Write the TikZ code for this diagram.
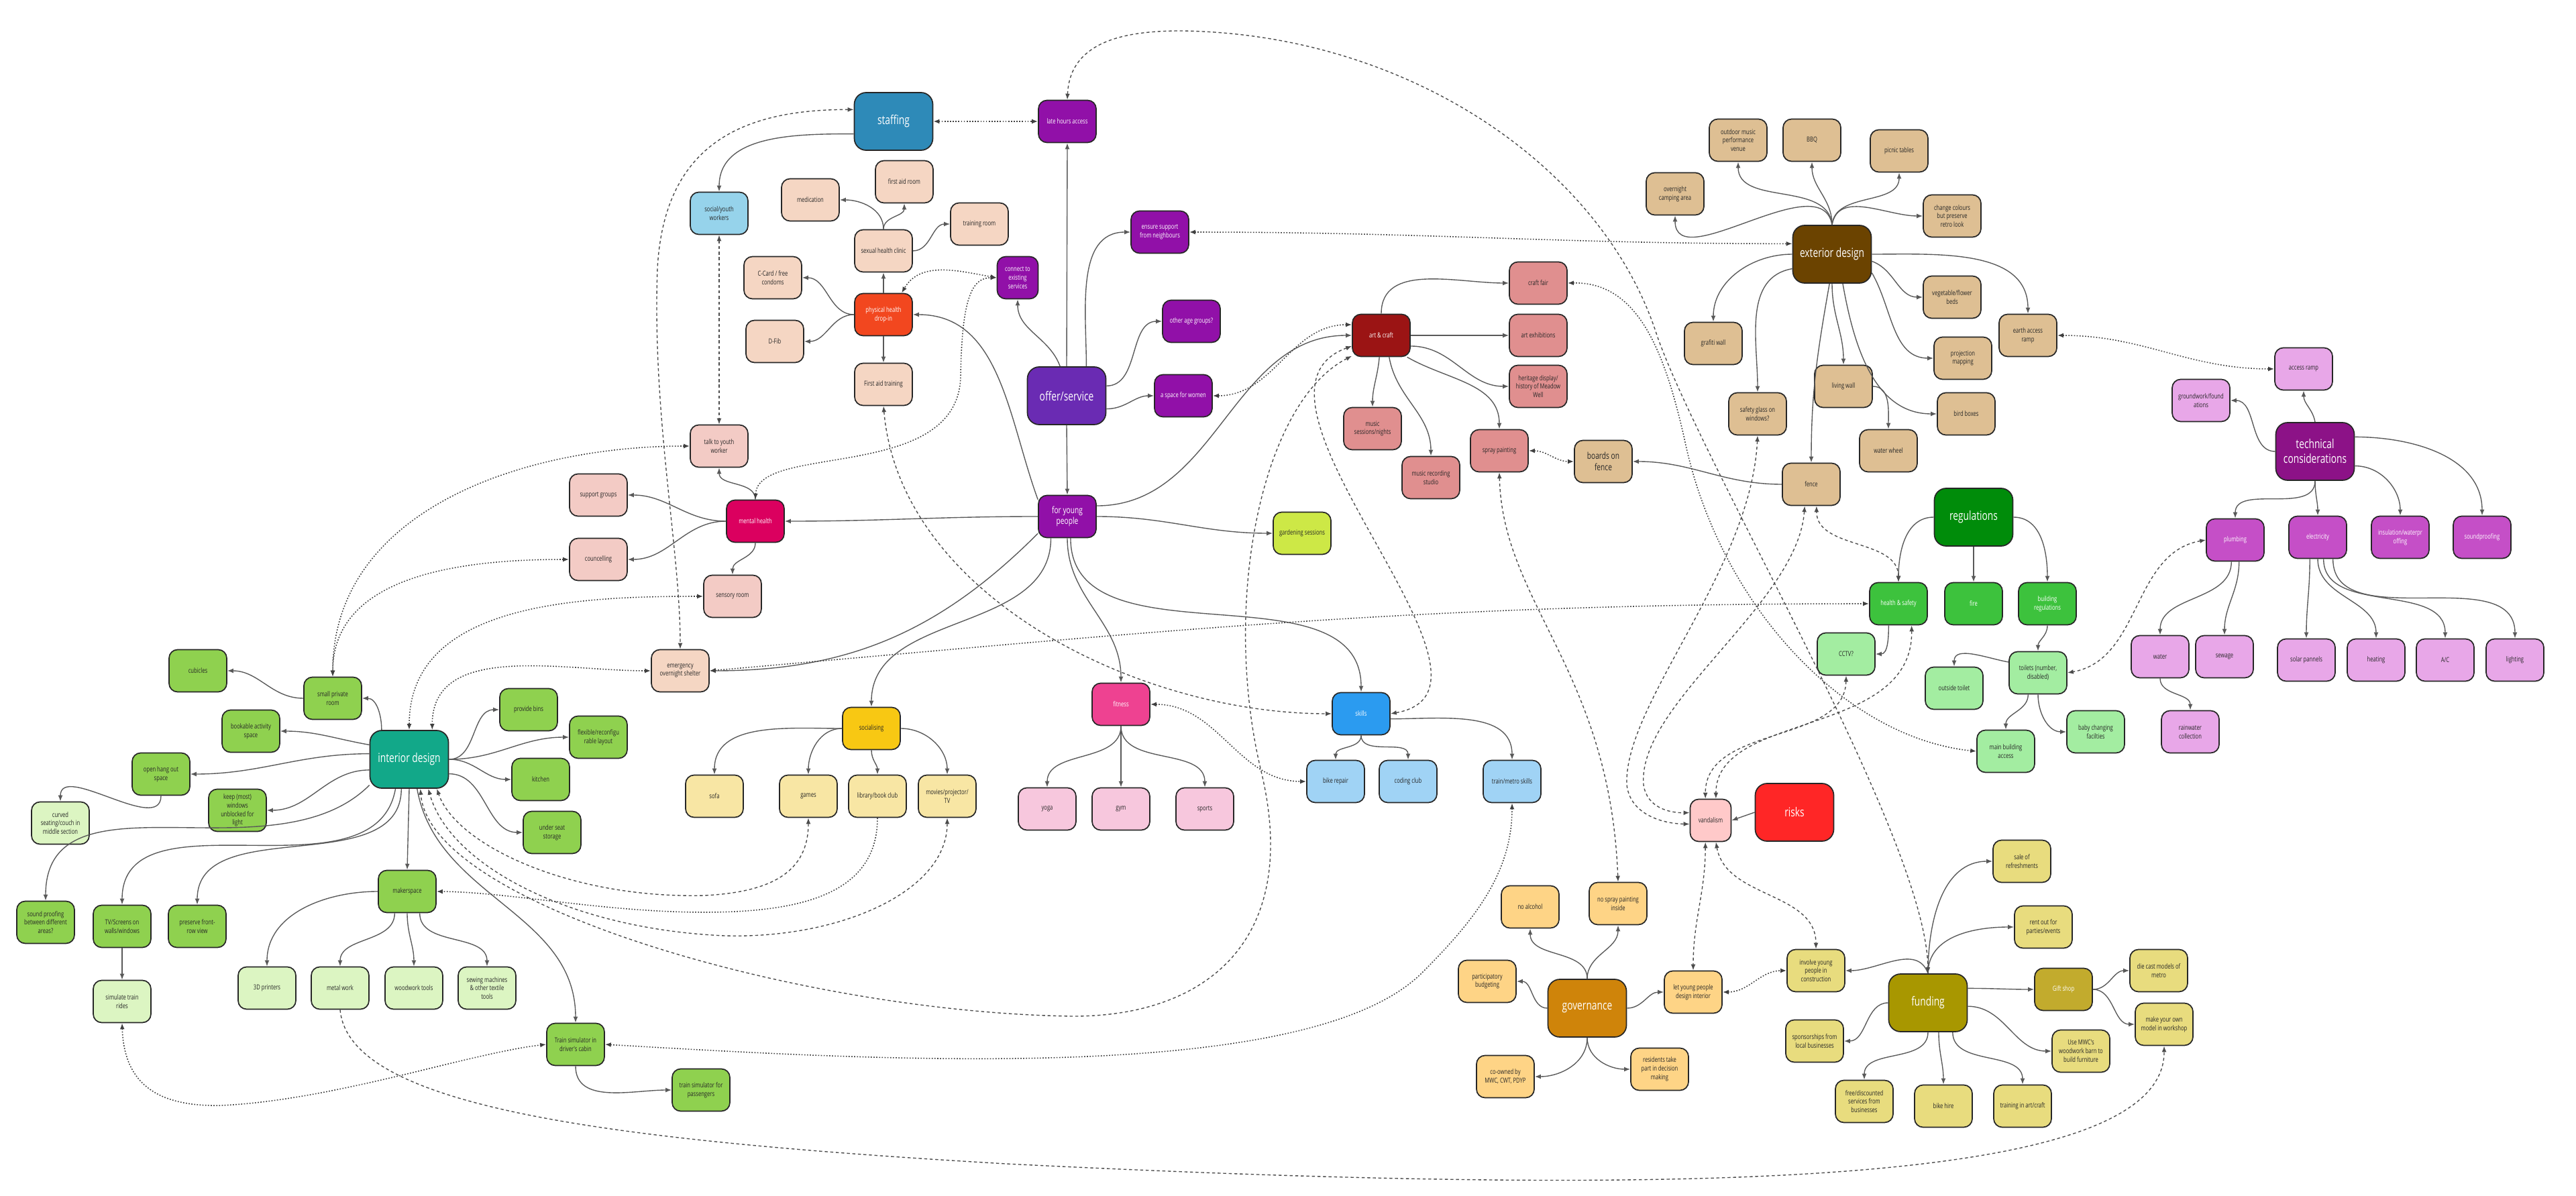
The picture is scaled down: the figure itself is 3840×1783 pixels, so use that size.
\documentclass[tikz,border=0pt]{standalone}
\usepackage{fontspec}
\usepackage{tikz}
\usetikzlibrary{arrows.meta}
\newfontfamily\mapfont[FakeStretch=0.74]{Open Sans}
\newcommand\nsmall{\mapfont\fontsize{3}{3.7}\selectfont}
\newcommand\nmid{\mapfont\fontsize{4}{4.8}\selectfont}
\newcommand\nhub{\mapfont\fontsize{5.4}{6.4}\selectfont}
\definecolor{cstaff}{HTML}{2E8AB8}
\definecolor{cyouthw}{HTML}{96D3EB}
\definecolor{cpurple}{HTML}{9110A8}
\definecolor{coffer}{HTML}{6A2BB3}
\definecolor{cpeach}{HTML}{F5D6C3}
\definecolor{cphys}{HTML}{F2471F}
\definecolor{cpink}{HTML}{F3CBC5}
\definecolor{cmental}{HTML}{DB005F}
\definecolor{cinter}{HTML}{12A889}
\definecolor{cgreen}{HTML}{8FD14F}
\definecolor{clgreen}{HTML}{DCF5C2}
\definecolor{csocial}{HTML}{F8C813}
\definecolor{clyellow}{HTML}{F8E6A4}
\definecolor{cfit}{HTML}{EE4291}
\definecolor{clpink}{HTML}{F7C7DD}
\definecolor{cskill}{HTML}{2B9BF0}
\definecolor{clblue}{HTML}{A0D3F5}
\definecolor{cgarden}{HTML}{CDE846}
\definecolor{cart}{HTML}{9B1414}
\definecolor{cartc}{HTML}{E08F8F}
\definecolor{cext}{HTML}{6B4300}
\definecolor{cextc}{HTML}{DEBF93}
\definecolor{creg}{HTML}{008C0A}
\definecolor{cregc}{HTML}{3DC23D}
\definecolor{cregl}{HTML}{A3EDA1}
\definecolor{ctech}{HTML}{8C1287}
\definecolor{ctechc}{HTML}{C54FC7}
\definecolor{ctechl}{HTML}{E8A7E8}
\definecolor{crisk}{HTML}{FF2626}
\definecolor{cvand}{HTML}{FFC9C9}
\definecolor{cgov}{HTML}{CF840A}
\definecolor{cgovc}{HTML}{FED486}
\definecolor{cfund}{HTML}{A89700}
\definecolor{cgift}{HTML}{C2AB2D}
\definecolor{cfundc}{HTML}{E8DC7E}
\tikzset{box/.style = {draw=black!85, line width=0.5pt, rounded corners=1.3mm, fill=#1,
                       text=black!85, font=\nsmall, align=center, inner sep=0.5pt,
                       minimum width=0.878cm, minimum height=0.643cm},
         wbox/.style = {box=#1, text=white},
         hub/.style = {box=#1, text=white, font=\nhub, rounded corners=1.8mm,
                       minimum width=1.194cm, minimum height=0.878cm},
         narrow/.style = {minimum width=0.623cm},
         tip/.style = {arrows={-Latex[length=2.6pt, width=2pt]}},
         tree/.style = {draw=black!65, line width=0.4pt, -{Latex[length=2.6pt, width=2pt]}},
         link/.style = {draw=black!70, line width=0.4pt, dash pattern=on 1.3pt off 1.1pt,
                        {Latex[length=2.6pt, width=2pt]}-{Latex[length=2.6pt, width=2pt]}},
         dlink/.style = {draw=black!75, line width=0.45pt, dash pattern=on 0.5pt off 0.7pt,
                         {Latex[length=2.6pt, width=2pt]}-{Latex[length=2.6pt, width=2pt]}}}

\begin{document}
\begin{tikzpicture}[x=0.0102083cm, y=-0.0102083cm]
    \useasboundingbox (0, 0) rectangle (3840, 1783);

    \node [hub=cstaff] (staff) at (1332, 181) {staffing};
    \node [box=cyouthw] (youthw) at (1072, 318) {social/youth\\workers};
    \node [wbox=cpurple] (late) at (1591, 181) {late hours access};
    \node [box=cpeach] (medic) at (1208, 298) {medication};
    \node [box=cpeach] (faroom) at (1348, 271) {first aid room};
    \node [box=cpeach] (troom) at (1460, 334) {training room};
    \node [box=cpeach] (sexual) at (1317, 374) {sexual health clinic};
    \node [box=cpeach] (ccard) at (1152, 414) {C-Card / free\\condoms};
    \node [wbox=cphys] (phys) at (1317, 469) {physical health\\drop-in};
    \node [box=cpeach] (dfib) at (1155, 509) {D-Fib};
    \node [box=cpeach] (fatrain) at (1317, 573) {First aid training};
    \node [wbox=cpurple, narrow] (connect) at (1517, 414) {connect to\\existing\\services};
    \node [wbox=cpurple] (ensure) at (1729, 346) {ensure support\\from neighbours};
    \node [wbox=cpurple] (other) at (1776, 479) {other age groups?};
    \node [wbox=cpurple] (women) at (1764, 590) {a space for women};
    \node [hub=coffer] (offer) at (1590, 590) {offer/service};
    \node [wbox=cpurple, font=\nmid] (young) at (1591, 770) {for young\\people};
    \node [box=cpink] (talk) at (1072, 665) {talk to youth\\worker};
    \node [wbox=cmental] (mental) at (1126, 777) {mental health};
    \node [box=cpink] (supp) at (892, 738) {support groups};
    \node [box=cpink] (counc) at (892, 834) {councelling};
    \node [box=cpink] (sensory) at (1092, 889) {sensory room};
    \node [box=cpeach] (emerg) at (1014, 1000) {emergency\\overnight shelter};
    \node [box=cgarden] (garden) at (1941, 795) {gardening sessions};

    \node [box=csocial] (social) at (1299, 1086) {socialising};
    \node [box=clyellow] (sofa) at (1065, 1187) {sofa};
    \node [box=clyellow] (games) at (1205, 1187) {games};
    \node [box=clyellow] (library) at (1308, 1187) {library/book club};
    \node [box=clyellow] (movies) at (1412, 1187) {movies/projector/\\TV};
    \node [wbox=cfit] (fitness) at (1671, 1050) {fitness};
    \node [box=clpink] (yoga) at (1561, 1206) {yoga};
    \node [box=clpink] (gym) at (1671, 1206) {gym};
    \node [box=clpink] (sports) at (1796, 1206) {sports};
    \node [wbox=cskill] (skills) at (2029, 1064) {skills};
    \node [box=clblue] (bike) at (1991, 1165) {bike repair};
    \node [box=clblue] (coding) at (2099, 1165) {coding club};
    \node [box=clblue] (metro) at (2254, 1165) {train/metro skills};

    \node [wbox=cart] (art) at (2059, 500) {art \& craft};
    \node [box=cartc] (craftfair) at (2293, 422) {craft fair};
    \node [box=cartc] (exhib) at (2293, 500) {art exhibitions};
    \node [box=cartc] (heritage) at (2293, 576) {heritage display/\\history of Meadow\\Well};
    \node [box=cartc] (musics) at (2046, 639) {music\\sessions/nights};
    \node [box=cartc] (musicrec) at (2133, 712) {music recording\\studio};
    \node [box=cartc] (spray) at (2235, 672) {spray painting};
    \node [box=cextc, font=\nmid] (boards) at (2390, 688) {boards on\\fence};

    \node [hub=cext] (ext) at (2731, 379) {exterior design};
    \node [box=cextc] (outdoor) at (2591, 209) {outdoor music\\performance\\venue};
    \node [box=cextc] (bbq) at (2701, 209) {BBQ};
    \node [box=cextc] (picnic) at (2831, 225) {picnic tables};
    \node [box=cextc] (overnight) at (2497, 289) {overnight\\camping area};
    \node [box=cextc] (change) at (2910, 322) {change colours\\but preserve\\retro look};
    \node [box=cextc] (veg) at (2910, 443) {vegetable/flower\\beds};
    \node [box=cextc] (earthramp) at (3023, 500) {earth access\\ramp};
    \node [box=cextc] (projmap) at (2926, 534) {projection\\mapping};
    \node [box=cextc] (grafiti) at (2554, 512) {grafiti wall};
    \node [box=cextc] (safety) at (2620, 617) {safety glass on\\windows?};
    \node [box=cextc] (living) at (2748, 576) {living wall};
    \node [box=cextc] (wheel) at (2815, 672) {water wheel};
    \node [box=cextc] (birdbox) at (2931, 617) {bird boxes};
    \node [box=cextc] (fence) at (2700, 722) {fence};

    \node [hub=creg] (reg) at (2942, 771) {regulations};
    \node [wbox=cregc] (hs) at (2830, 900) {health \& safety};
    \node [wbox=cregc] (fire) at (2942, 900) {fire};
    \node [wbox=cregc] (buildreg) at (3052, 900) {building\\regulations};
    \node [box=cregl] (cctv) at (2752, 975) {CCTV?};
    \node [box=cregl] (toilets) at (3038, 1003) {toilets (number,\\disabled)};
    \node [box=cregl] (outside) at (2913, 1026) {outside toilet};
    \node [box=cregl] (mainacc) at (2990, 1120) {main building\\access};
    \node [box=cregl] (baby) at (3124, 1091) {baby changing\\facilties};

    \node [hub=ctech] (tech) at (3451, 673) {technical\\considerations};
    \node [box=ctechl] (ramp) at (3434, 550) {access ramp};
    \node [box=ctechl] (ground) at (3281, 597) {groundwork/found\\ations};
    \node [wbox=ctechc] (plumb) at (3332, 805) {plumbing};
    \node [wbox=ctechc] (elec) at (3455, 801) {electricity};
    \node [wbox=ctechc] (insul) at (3578, 801) {insulation/waterpr\\offing};
    \node [wbox=ctechc] (sound) at (3700, 801) {soundproofing};
    \node [box=ctechl] (water) at (3220, 979) {water};
    \node [box=ctechl] (sewage) at (3316, 979) {sewage};
    \node [box=ctechl] (solar) at (3438, 984) {solar pannels};
    \node [box=ctechl] (heating) at (3542, 984) {heating};
    \node [box=ctechl] (ac) at (3645, 984) {A/C};
    \node [box=ctechl] (lighting) at (3749, 984) {lighting};
    \node [box=ctechl] (rain) at (3265, 1091) {rainwater\\collection};

    \node [hub=crisk] (risks) at (2675, 1211) {risks};
    \node [box=cvand, narrow] (vand) at (2550, 1223) {vandalism};

    \node [hub=cgov] (gov) at (2366, 1503) {governance};
    \node [box=cgovc] (noalc) at (2281, 1352) {no alcohol};
    \node [box=cgovc] (nospray) at (2412, 1347) {no spray painting\\inside};
    \node [box=cgovc] (partic) at (2217, 1463) {participatory\\budgeting};
    \node [box=cgovc] (letyoung) at (2524, 1479) {let young people\\design interior};
    \node [box=cgovc] (coowned) at (2244, 1605) {co-owned by\\MWC, CWT, PDYP};
    \node [box=cgovc] (residents) at (2474, 1594) {residents take\\part in decision\\making};

    \node [hub=cfund] (fund) at (2874, 1495) {funding};
    \node [box=cfundc] (involve) at (2707, 1447) {involve young\\people in\\construction};
    \node [box=cfundc] (sale) at (3014, 1284) {sale of\\refreshments};
    \node [box=cfundc] (rent) at (3046, 1382) {rent out for\\parties/events};
    \node [wbox=cgift] (gift) at (3076, 1475) {Gift shop};
    \node [box=cfundc] (diecast) at (3218, 1447) {die cast models of\\metro};
    \node [box=cfundc] (makeown) at (3226, 1527) {make your own\\model in workshop};
    \node [box=cfundc] (sponsor) at (2705, 1552) {sponsorships from\\local businesses};
    \node [box=cfundc] (usemwc) at (3102, 1567) {Use MWC's\\woodwork barn to\\build furniture};
    \node [box=cfundc] (free) at (2779, 1642) {free/discounted\\services from\\businesses};
    \node [box=cfundc] (bikehire) at (2897, 1649) {bike hire};
    \node [box=cfundc] (trainart) at (3015, 1649) {training in art/craft};

    \node [hub=cinter] (inter) at (610, 1132) {interior design};
    \node [box=cgreen] (priv) at (496, 1041) {small private\\room};
    \node [box=cgreen] (cubic) at (295, 1000) {cubicles};
    \node [box=cgreen] (bookable) at (374, 1090) {bookable activity\\space};
    \node [box=cgreen] (bins) at (788, 1058) {provide bins};
    \node [box=cgreen] (flex) at (892, 1099) {flexible/reconfigu\\rable layout};
    \node [box=cgreen] (kitchen) at (806, 1162) {kitchen};
    \node [box=cgreen] (openhang) at (240, 1154) {open hang out\\space};
    \node [box=cgreen] (keep) at (354, 1208) {keep (most)\\windows\\unblocked for\\light};
    \node [box=clgreen] (curved) at (90, 1227) {curved\\seating/couch in\\middle section};
    \node [box=cgreen] (storage) at (823, 1241) {under seat\\storage};
    \node [box=cgreen] (soundp) at (68, 1375) {sound proofing\\between different\\areas?};
    \node [box=cgreen] (tv) at (182, 1381) {TV/Screens on\\walls/windows};
    \node [box=cgreen] (preserve) at (294, 1381) {preserve front-\\row view};
    \node [box=cgreen] (maker) at (607, 1329) {makerspace};
    \node [box=clgreen] (simtrain) at (182, 1493) {simulate train\\rides};
    \node [box=clgreen] (print) at (398, 1473) {3D printers};
    \node [box=clgreen] (metal) at (507, 1473) {metal work};
    \node [box=clgreen] (wood) at (617, 1473) {woodwork tools};
    \node [box=clgreen] (sewing) at (726, 1473) {sewing machines\\\& other textile\\tools};
    \node [box=cgreen] (trainsim) at (858, 1557) {Train simulator in\\driver's cabin};
    \node [box=cgreen] (trainpass) at (1045, 1625) {train simulator for\\passengers};

    % tree
    \draw [tree] ([yshift=-0.19cm]staff.west) to [out=180, in=90] (youthw.north);
    \draw [tree] (offer.north) -- (late.south);
    \draw [tree] ([xshift=-0.1cm]offer.north) to [out=110, in=-90] (connect.south);
    \draw [tree] ([xshift=0.3cm]offer.north) to [out=90, in=180] (ensure.west);
    \draw [tree] ([yshift=0.15cm]offer.east) to [out=0, in=180] (other.west);
    \draw [tree] ([yshift=-0.2cm]offer.east) to [out=0, in=180] (women.west);
    \draw [tree] (offer.south) -- (young.north);
    \draw [tree] (young.150) to [out=110, in=0] (phys.east);
    \draw [tree] (young.20) to [out=0, in=180] (art.west);
    \draw [tree] (young.west) to [out=180, in=0] (mental.east);
    \draw [tree] (young.east) to [out=0, in=180] (garden.west);
    \draw [tree] (young.210) to [out=225, in=0] (emerg.east);
    \draw [tree] ([xshift=-0.25cm]young.south) to [out=-90, in=90] (social.north);
    \draw [tree] (young.south) to [out=-90, in=90] (fitness.north);
    \draw [tree] ([xshift=0.05cm]young.south) to [out=-90, in=90] (skills.north);

    \draw [tree] (phys.north) -- (sexual.south);
    \draw [tree] (phys.west) to [out=180, in=0] (ccard.east);
    \draw [tree] (phys.west) to [out=180, in=0] (dfib.east);
    \draw [tree] (phys.south) -- (fatrain.north);
    \draw [tree] (sexual.north) to [out=90, in=0] (medic.east);
    \draw [tree] (sexual.north) to [out=90, in=-90] (faroom.south);
    \draw [tree] (sexual.east) to [out=0, in=180] (troom.west);
    \draw [tree] (mental.north) to [out=90, in=-90] (talk.south);
    \draw [tree] (mental.west) to [out=180, in=0] (supp.east);
    \draw [tree] (mental.west) to [out=180, in=0] (counc.east);
    \draw [tree] (mental.south) to [out=-90, in=90] (sensory.north);

    \draw [tree] ([xshift=-0.42cm]inter.north) to [out=90, in=0] (priv.east);
    \draw [tree] (inter.160) to [out=170, in=0] (bookable.east);
    \draw [tree] (inter.172) to [out=180, in=0] (openhang.east);
    \draw [tree] (inter.195) to [out=180, in=0] (keep.east);
    \draw [tree] (inter.213) to [out=225, in=90] (soundp.north);
    \draw [tree] (inter.245) to [out=-100, in=90] (tv.north);
    \draw [tree] (inter.255) to [out=-90, in=90] (preserve.north);
    \draw [tree] (inter.south) -- (maker.north);
    \draw [tree] (inter.285) to [out=-80, in=90] (trainsim.north);
    \draw [tree] (inter.east) to [out=0, in=180] (bins.west);
    \draw [tree] (inter.east) to [out=0, in=180] (flex.west);
    \draw [tree] (inter.east) to [out=0, in=180] (kitchen.west);
    \draw [tree] (inter.340) to [out=0, in=180] (storage.west);
    \draw [tree] (priv.west) to [out=180, in=0] (cubic.east);
    \draw [tree] (openhang.south) to [out=-90, in=90] (curved.north);
    \draw [tree] (tv.south) -- (simtrain.north);
    \draw [tree] (maker.west) to [out=180, in=90] (print.north);
    \draw [tree] (maker.240) to [out=-90, in=90] (metal.north);
    \draw [tree] (maker.south) to [out=-90, in=90] (wood.north);
    \draw [tree] (maker.300) to [out=-90, in=90] (sewing.north);
    \draw [tree] (trainsim.south) to [out=-90, in=180] (trainpass.west);

    \draw [tree] (social.west) to [out=180, in=90] (sofa.north);
    \draw [tree] (social.west) to [out=180, in=90] (games.north);
    \draw [tree] (social.south) to [out=-90, in=90] (library.north);
    \draw [tree] (social.east) to [out=0, in=90] (movies.north);
    \draw [tree] (fitness.south) to [out=-90, in=90] (yoga.north);
    \draw [tree] (fitness.south) -- (gym.north);
    \draw [tree] (fitness.south) to [out=-90, in=90] (sports.north);
    \draw [tree] (skills.south) to [out=-90, in=90] (bike.north);
    \draw [tree] (skills.south) to [out=-90, in=90] (coding.north);
    \draw [tree] (skills.-10) to [out=0, in=90] (metro.north);

    \draw [tree] (art.north) to [out=90, in=180] (craftfair.west);
    \draw [tree] (art.east) to [out=0, in=180] (exhib.west);
    \draw [tree] (art.-20) to [out=0, in=180] (heritage.west);
    \draw [tree] (art.265) to [out=-95, in=90] (musics.north);
    \draw [tree] (art.290) to [out=-80, in=90] (musicrec.north);
    \draw [tree] (art.-40) to [out=-30, in=90] (spray.north);

    \draw [tree] (ext.north) to [out=100, in=-90] (overnight.south);
    \draw [tree] (ext.north) to [out=95, in=-90] (outdoor.south);
    \draw [tree] (ext.north) to [out=90, in=-90] (bbq.south);
    \draw [tree] (ext.north) to [out=85, in=-90] (picnic.south);
    \draw [tree] (ext.north) to [out=80, in=180] (change.west);
    \draw [tree] (ext.west) to [out=180, in=90] (grafiti.north);
    \draw [tree] (ext.200) to [out=190, in=90] (safety.north);
    \draw [tree] (ext.south) to [out=-90, in=90] (living.north);
    \draw [tree] (ext.265) to [out=-100, in=90] (fence.north);
    \draw [tree] (ext.290) to [out=-80, in=180] (birdbox.west);
    \draw [tree] (ext.-10) to [out=-20, in=180] (veg.west);
    \draw [tree] (ext.-25) to [out=-60, in=180] (projmap.west);
    \draw [tree] (ext.east) to [out=0, in=90] (earthramp.north);
    \draw [tree] (living.east) to [out=0, in=90] (wheel.north);
    \draw [tree] (fence.west) to [out=180, in=0] (boards.east);

    \draw [tree] (reg.west) to [out=180, in=90] (hs.north);
    \draw [tree] (reg.south) -- (fire.north);
    \draw [tree] (reg.east) to [out=0, in=90] (buildreg.north);
    \draw [tree] ([xshift=-0.15cm]hs.south) to [out=-90, in=0] (cctv.east);
    \draw [tree] (buildreg.south) to [out=-90, in=90] (toilets.north);
    \draw [tree] (toilets.160) to [out=170, in=90] (outside.north);
    \draw [tree] ([xshift=-0.15cm]toilets.south) to [out=-90, in=90] (mainacc.north);
    \draw [tree] (toilets.south) to [out=-90, in=180] (baby.west);

    \draw [tree] (tech.north) to [out=100, in=-90] (ramp.south);
    \draw [tree] (tech.west) to [out=180, in=0] (ground.east);
    \draw [tree] (tech.south) to [out=-90, in=90] (plumb.north);
    \draw [tree] (tech.south) to [out=-90, in=90] (elec.north);
    \draw [tree] (tech.-20) to [out=0, in=90] (insul.north);
    \draw [tree] (tech.20) to [out=0, in=90] (sound.north);
    \draw [tree] (plumb.260) to [out=-90, in=90] (water.north);
    \draw [tree] (plumb.280) to [out=-90, in=90] (sewage.north);
    \draw [tree] (water.south) to [out=-90, in=90] (rain.north);
    \draw [tree] (elec.250) to [out=-90, in=90] (solar.north);
    \draw [tree] (elec.270) to [out=-90, in=90] (heating.north);
    \draw [tree] (elec.285) to [out=-90, in=90] (ac.north);
    \draw [tree] (elec.305) to [out=-90, in=90] (lighting.north);
    \draw [tree] (risks.west) -- (vand.east);

    \draw [tree] (gov.north) to [out=90, in=-90] (noalc.south);
    \draw [tree] (gov.north) to [out=90, in=-90] (nospray.south);
    \draw [tree] (gov.west) to [out=180, in=0] (partic.east);
    \draw [tree] (gov.east) to [out=0, in=180] (letyoung.west);
    \draw [tree] (gov.south) to [out=-90, in=0] (coowned.east);
    \draw [tree] (gov.south) to [out=-90, in=180] (residents.west);
    \draw [tree] (fund.north) to [out=110, in=0] (involve.east);
    \draw [tree] (fund.north) to [out=90, in=180] (sale.west);
    \draw [tree] (fund.north) to [out=90, in=180] (rent.west);
    \draw [tree] (fund.20) to [out=0, in=180] (gift.west);
    \draw [tree] (fund.west) to [out=180, in=0] (sponsor.east);
    \draw [tree] (fund.south) to [out=-90, in=90] (free.north);
    \draw [tree] (fund.290) to [out=-90, in=90] (bikehire.north);
    \draw [tree] (fund.310) to [out=-90, in=90] (trainart.north);
    \draw [tree] (fund.-5) to [out=0, in=180] (usemwc.west);
    \draw [tree] (gift.east) to [out=0, in=180] (diecast.west);
    \draw [tree] (gift.east) to [out=0, in=180] (makeown.west);

    % cross links
    \draw [dlink] (staff.east) -- (late.west);
    \draw [link] ([yshift=0.18cm]staff.west) .. controls (1100, 163) and (990, 220) .. (980, 400) .. controls (972, 620) and (1014, 820) .. (emerg.north);
    \draw [link] (youthw.south) -- (talk.north);
    \draw [dlink] (talk.west) to [out=180, in=90] (priv.north);
    \draw [dlink] (counc.west) to [out=180, in=90] (priv.north);
    \draw [dlink] (sensory.west) to [out=180, in=90] (inter.north);
    \draw [dlink] (emerg.west) to [out=180, in=90] ([xshift=0.35cm]inter.north);
    \draw [dlink] (mental.north) .. controls (1130, 660) and (1430, 720) .. (1432, 560) .. controls (1434, 440) and (1450, 414) .. (connect.west);
    \draw [dlink] (connect.west) to [out=170, in=60] (phys.50);
    \draw [link] (fatrain.south) to [out=-85, in=180, looseness=0.9] (skills.west);
    \draw [link] (art.200) to [out=200, in=10] (skills.east);
    \draw [link] (art.215) .. controls (1880, 600) and (1820, 900) .. (1880, 1150) .. controls (1940, 1400) and (1800, 1515) .. (1600, 1515) .. controls (1200, 1510) and (640, 1350) .. ([xshift=0.17cm]inter.south);
    \draw [link] (games.south) .. controls (1205, 1300) and (1150, 1330) .. (1050, 1335) .. controls (850, 1340) and (680, 1260) .. ([xshift=0.42cm]inter.south);
    \draw [dlink, tip] (library.south) .. controls (1308, 1330) and (1200, 1360) .. (1050, 1360) .. controls (900, 1360) and (760, 1330) .. (maker.east);
    \draw [link] (movies.south) .. controls (1412, 1330) and (1250, 1400) .. (1080, 1395) .. controls (850, 1385) and (670, 1290) .. ([xshift=0.29cm]inter.south);
    \draw [dlink] (women.east) to [out=0, in=180] (art.160);
    \draw [dlink] (emerg.east) to [out=5, in=180] (hs.west);
    \draw [dlink] (ensure.east) to [out=0, in=180] ([yshift=0.16cm]ext.west);
    \draw [link] (late.north) .. controls (1595, 60) and (1680, 46) .. (1760, 46) .. controls (2100, 50) and (2390, 250) .. (2470, 500) .. controls (2540, 700) and (2872, 1250) .. (fund.north);
    \draw [dlink] (craftfair.east) .. controls (2440, 420) and (2480, 520) .. (2510, 650) .. controls (2560, 900) and (2750, 1100) .. (mainacc.west);
    \draw [dlink] (earthramp.east) to [out=0, in=180] (ramp.west);
    \draw [link] (plumb.west) to [out=190, in=10] (toilets.east);
    \draw [link] (hs.north) to [out=90, in=-90] ([xshift=0.08cm]fence.south);
    \draw [link] ([xshift=-0.1cm]fence.south) .. controls (2680, 900) and (2440, 1050) .. (2450, 1170) .. controls (2455, 1205) and (2490, 1212) .. (vand.160);
    \draw [link] (safety.south) .. controls (2610, 850) and (2420, 1050) .. (2425, 1170) .. controls (2430, 1215) and (2480, 1228) .. (vand.190);
    \draw [link] (cctv.south) .. controls (2750, 1110) and (2542, 1080) .. ([xshift=-0.08cm]vand.north);
    \draw [link] ([xshift=0.2cm]hs.south) .. controls (2852, 1100) and (2558, 1060) .. ([xshift=0.08cm]vand.north);
    \draw [dlink] (spray.east) to [out=0, in=180] (boards.west);
    \draw [link] (spray.south) .. controls (2240, 900) and (2400, 1000) .. (nospray.north);
    \draw [link] ([xshift=-0.08cm]vand.south) to [out=-90, in=90] (letyoung.north);
    \draw [link] ([xshift=0.08cm]vand.south) to [out=-80, in=90] (involve.north);
    \draw [dlink] (letyoung.east) to [out=0, in=180] (involve.west);
    \draw [dlink] (fitness.east) to [out=0, in=180] (bike.west);
    \draw [dlink] (simtrain.south) .. controls (185, 1620) and (240, 1650) .. (330, 1648) .. controls (500, 1640) and (700, 1570) .. (trainsim.west);
    \draw [dlink] (trainsim.east) .. controls (1300, 1580) and (1950, 1620) .. (2120, 1450) .. controls (2200, 1370) and (2254, 1300) .. (metro.south);
    \draw [link, tip] (metal.south) .. controls (520, 1650) and (900, 1700) .. (1500, 1735) .. controls (2600, 1790) and (3227, 1760) .. (makeown.south);
\end{tikzpicture}
\end{document}
